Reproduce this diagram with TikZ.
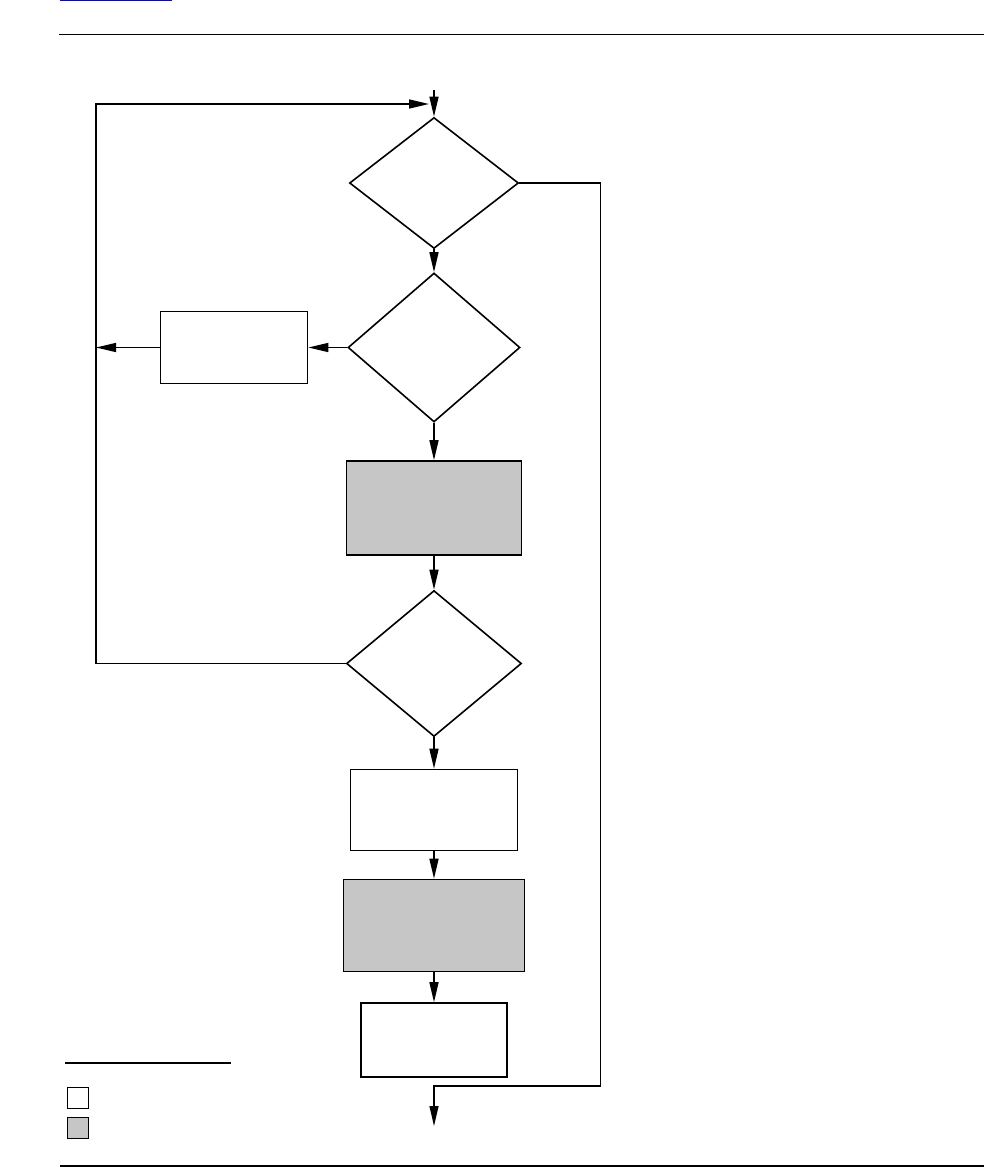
\documentclass[tikz,border=0pt]{standalone}
\usepackage{tikz}
\usetikzlibrary{arrows.meta, shapes.geometric}

\tikzset{
  box/.style={draw, line width=1.6pt, inner sep=0pt, minimum width=#1},
  graybox/.style={box=#1, fill=boxgray},
  decision/.style={draw, diamond, line width=1.6pt, inner sep=0pt},
  flow/.style={line width=1.5pt, -{Triangle[length=20pt,width=9pt]}},
  plain/.style={line width=1.5pt}
}
\definecolor{boxgray}{HTML}{C6C6C6}

\begin{document}
\begin{tikzpicture}[x=1pt, y=-1pt]
    \useasboundingbox (0,0) rectangle (984,1167);

    % page rules
    \draw[blue, line width=1pt] (60,0.7) -- (172,0.7);
    \draw[line width=1pt] (59,34) -- (984,34);
    \draw[line width=2pt] (60,1165.5) -- (984,1165.5);

    % chart
    \node[decision, minimum width=169pt, minimum height=131pt] (dec1) at (434,183) {};
    \node[decision, minimum width=172pt, minimum height=149pt] (dec2) at (434,347.5) {};
    \node[box=147pt, minimum height=72pt] (retry) at (234,347.5) {};
    \node[graybox=175pt, minimum height=94pt] (proc1) at (434,508) {};
    \node[decision, minimum width=175pt, minimum height=146pt] (dec3) at (434,663.5) {};
    \node[box=167pt, minimum height=81pt] (stepB) at (434,810) {};
    \node[graybox=181pt, minimum height=92pt] (proc2) at (434,925.5) {};
    \node[box=146pt, minimum height=74pt] (stepC) at (434,1040) {};

    \coordinate (in) at (434,90);
    \coordinate (loopin) at (429,104);
    \coordinate (loopTL) at (96,104);
    \coordinate (loopBL) at (96,663.5);
    \coordinate (retryout) at (96,347.5);
    \coordinate (exitTR) at (600.5,183);
    \coordinate (exitBR) at (600.5,1086);
    \coordinate (exitBL) at (434,1086);
    \coordinate (out) at (434,1126);

    \draw[flow] (in) -- (dec1.north);
    \draw[flow] (dec1) -- (dec2);
    \draw[flow] (dec2) -- (retry);
    \draw[flow] (retry.west) -- (retryout);
    \draw[flow] (dec2) -- (proc1);
    \draw[flow] (proc1) -- (dec3);
    \draw[flow] (dec3) -- (stepB);
    \draw[flow] (stepB) -- (proc2);
    \draw[flow] (proc2) -- (stepC);
    \draw[flow] (dec3.west) -- (loopBL) -- (loopTL) -- (loopin);
    \draw[flow, line width=1.2pt] (dec1.east) -- (exitTR) -- (exitBR) -- (exitBL) -- (out);

    % legend
    \draw[line width=1.3pt] (65,1063) -- (231,1063);
    \node[box=20.6pt, minimum height=20.6pt, line width=1.3pt] (keyA) at (78,1098) {};
    \node[graybox=20.6pt, minimum height=20.6pt, line width=1.3pt] (keyB) at (78,1128) {};
\end{tikzpicture}
\end{document}
